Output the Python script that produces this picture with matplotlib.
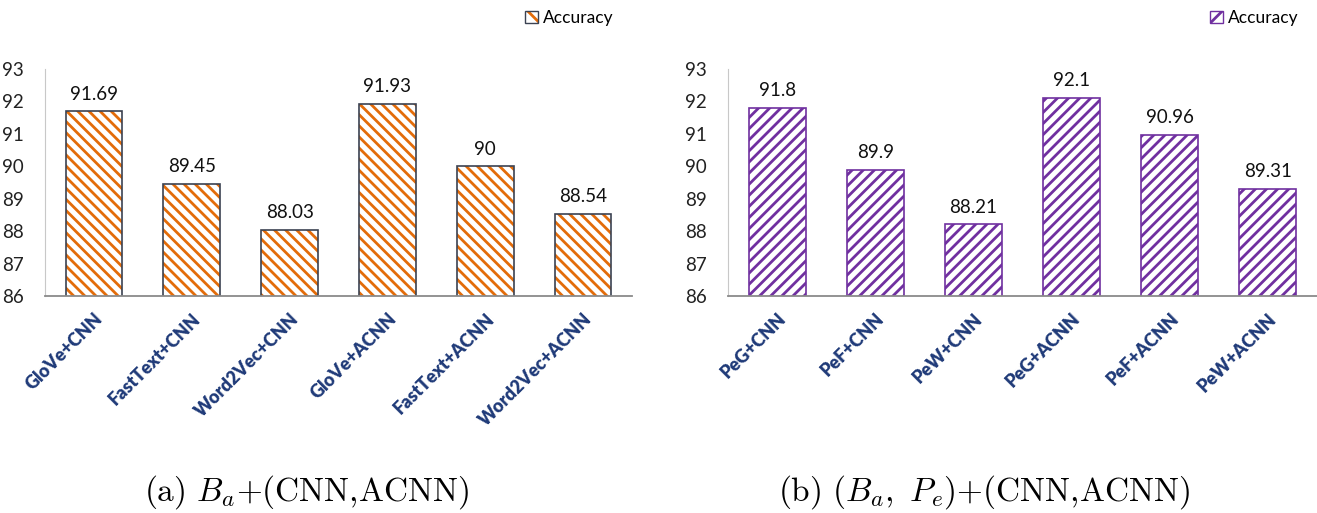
import matplotlib
matplotlib.use('Agg')
import matplotlib.pyplot as plt
from matplotlib.patches import Patch

# data
labels_a = ["GloVe+CNN", "FastText+CNN", "Word2Vec+CNN", "GloVe+ACNN", "FastText+ACNN", "Word2Vec+ACNN"]
acc_a = [91.69, 89.45, 88.03, 91.93, 90, 88.54]
labels_b = ["PeG+CNN", "PeF+CNN", "PeW+CNN", "PeG+ACNN", "PeF+ACNN", "PeW+ACNN"]
acc_b = [91.8, 89.9, 88.21, 92.1, 90.96, 89.31]
value_text_a = ["91.69", "89.45", "88.03", "91.93", "90", "88.54"]
value_text_b = ["91.8", "89.9", "88.21", "92.1", "90.96", "89.31"]
yticks = [86, 87, 88, 89, 90, 91, 92, 93]

ORANGE = "#E36C0A"
PURPLE = "#7030A0"
NAVY = "#1F3A78"
EDGE_A = "#3B4252"

plt.rcParams['font.family'] = ['Lato', 'DejaVu Sans']
plt.rcParams['mathtext.fontset'] = 'cm'
plt.rcParams['hatch.linewidth'] = 2.0

fig = plt.figure(figsize=(13.17, 5.13), dpi=100)
ax_a = fig.add_axes([0.0342, 0.423, 0.4457, 0.4425])
ax_b = fig.add_axes([0.5528, 0.423, 0.4472, 0.4425])


def draw_panel(ax, labels, values, texts, hatch_color, edge_color, hatch, legend_x):
    x = range(len(labels))
    plt.rcParams['hatch.color'] = hatch_color
    bars = ax.bar(x, values, width=0.58, bottom=0, color='white',
                  edgecolor=edge_color, linewidth=1.2, hatch=hatch * 3)
    for b in bars:
        b._hatch_color = matplotlib.colors.to_rgba(hatch_color)
    for xi, v, t in zip(x, values, texts):
        ax.text(xi, v + 0.27, t, ha='center', va='bottom', fontsize=13.5, color='#111111')
    ax.set_ylim(86, 93)
    ax.set_xlim(-0.5, len(labels) - 0.5)
    ax.set_yticks(yticks)
    ax.set_yticklabels([str(t) for t in yticks], fontsize=13.5, color='#222222')
    ax.set_xticks(list(x))
    ax.set_xticklabels(labels, rotation=45, ha='right', rotation_mode='anchor',
                       fontsize=13, fontweight='heavy', color=NAVY)
    ax.tick_params(axis='both', length=0)
    ax.tick_params(axis='y', pad=15)
    ax.tick_params(axis='x', pad=10)
    ax.spines['top'].set_visible(False)
    ax.spines['right'].set_visible(False)
    ax.spines['left'].set_color('#c8c8c8')
    ax.spines['bottom'].set_color('#8a8a8a')
    ax.spines['bottom'].set_linewidth(1.3)
    handle = Patch(facecolor='white', edgecolor=edge_color, hatch=hatch * 2)
    handle._hatch_color = matplotlib.colors.to_rgba(hatch_color)
    ax.legend([handle], ['Accuracy'], loc='center right', bbox_to_anchor=(legend_x, 0.965),
              bbox_transform=fig.transFigure, frameon=False, fontsize=12.5,
              handlelength=0.75, handleheight=0.75, handletextpad=0.3, borderaxespad=0,
              borderpad=0)


draw_panel(ax_a, labels_a, acc_a, value_text_a, ORANGE, EDGE_A, '\\', 0.466)
draw_panel(ax_b, labels_b, acc_b, value_text_b, PURPLE, PURPLE, '/', 0.986)

fig.text(0.233, 0.04, r'$\mathrm{(a)}\ B_a\mathrm{+(CNN{,}ACNN)}$', ha='center', va='center', fontsize=24)
fig.text(0.747, 0.04, r'$\mathrm{(b)}\ (B_a,\ P_e)\mathrm{+(CNN{,}ACNN)}$', ha='center', va='center', fontsize=24)

fig.savefig("out.png", dpi=100)
